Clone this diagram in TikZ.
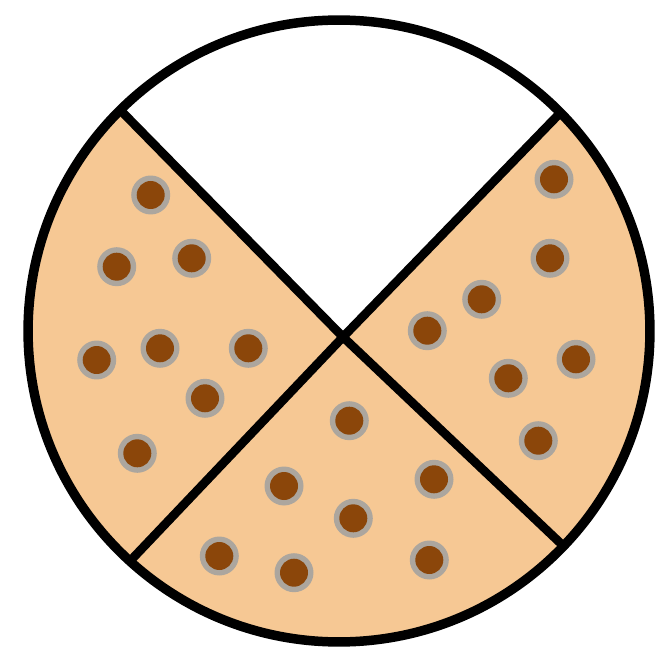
\documentclass[tikz,border=0pt]{standalone}
\usepackage{xcolor}
\usepackage{tikz}
\usetikzlibrary{calc}

\definecolor{dough}{RGB}{246,200,148}
\definecolor{chip}{RGB}{139,70,10}
\definecolor{halo}{RGB}{172,166,158}

\begin{document}
\begin{tikzpicture}[x=0.02cm, y=-0.02cm,
        rim/.style={draw=black, line width=5.4pt},
        cut/.style={draw=black, line width=5pt, line cap=round},
        wedge/.style={fill=dough},
        gap/.style={fill=white},
        crumb/.style={fill=halo},
        choc/.style={fill=chip}
    ]
    \useasboundingbox (0,0) rectangle (668,651);
    \fill[white] (0,0) rectangle (668,651);

    % the pie and its cut lines
    \coordinate (mid) at (339,331);
    \coordinate (hub) at (343,337);
    \coordinate (tl) at ($(hub)!2!(132,122)$);
    \coordinate (tr) at ($(hub)!2!(563,110)$);
    \coordinate (br) at ($(hub)!2!(555,538)$);
    \coordinate (bl) at ($(hub)!2!(133,558)$);

    \begin{scope}
        \clip (mid) circle[radius=6.22cm];
        \fill[wedge] (mid) circle[radius=6.22cm];
        \fill[gap] (hub) -- (tl) -- (tr) -- cycle;

        % chocolate chips
        \foreach \p in {(150.7,195), (116.7,266.7), (191.7,258.3), (96.7,360),
                        (160,348.3), (248.3,348.3), (205,398.3), (137.3,453.3),
                        (554,179.3), (550,258.3), (481.7,299.3), (427.3,330.7),
                        (576,359.3), (508.3,378.3), (538.3,440.7),
                        (349.3,420.7), (284,486), (434,479.3), (353.3,518.3),
                        (219.3,556), (294,572.7), (429.3,560)} {
            \fill[crumb] \p circle[radius=0.39cm];
            \fill[choc] \p circle[radius=0.28cm];
        }

        \draw[cut] (hub) -- (tl);
        \draw[cut] (hub) -- (tr);
        \draw[cut] (hub) -- (br);
        \draw[cut] (hub) -- (bl);
    \end{scope}
    \draw[rim] (mid) circle[radius=6.22cm];

\end{tikzpicture}
\end{document}
